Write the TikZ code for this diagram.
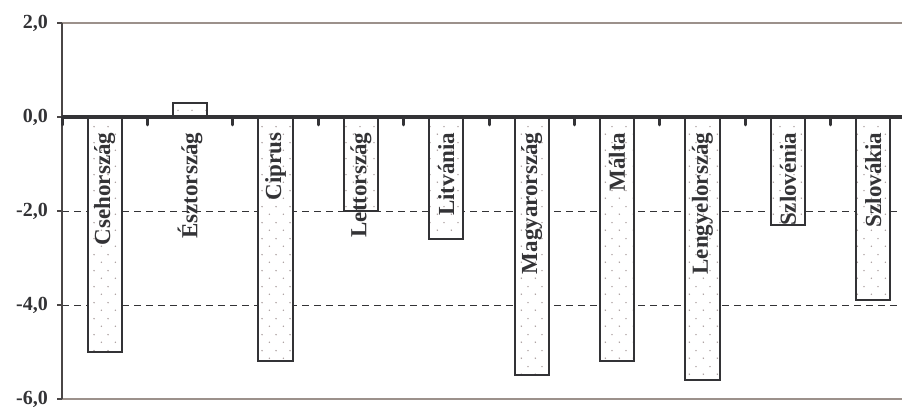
\documentclass[tikz,border=0pt]{standalone}
\usepackage{fontspec}
\setmainfont{Liberation Serif}
\usetikzlibrary{patterns.meta}
\definecolor{framegray}{HTML}{9C918B}
\definecolor{axisgray}{HTML}{4A4646}
\definecolor{bardark}{HTML}{333336}
\definecolor{dotgray}{HTML}{A89C9C}

\tikzdeclarepattern{name=bardots, type=uncolored,
  bounding box={(0pt,0pt) and (14pt,16pt)}, tile size={(14pt,16pt)},
  code={\fill (3.5pt,4pt) circle (0.85pt); \fill (10.5pt,12pt) circle (0.85pt);}}

\tikzset{
  gridline/.style={bardark, line width=0.8pt, dash pattern=on 7pt off 5pt},
  frameline/.style={framegray, line width=2pt},
  axisline/.style={axisgray, line width=1.5pt},
  zeroline/.style={bardark, line width=4pt},
  zerotick/.style={bardark, line width=3pt, line cap=round},
  bar/.style={bardark, line width=2pt, preaction={fill=white}, pattern={bardots}, pattern color=dotgray},
  catlabel/.style={rotate=90, anchor=east, inner sep=0pt, text=bardark, font=\fontsize{23}{23}\selectfont\bfseries},
  ticklabel/.style={anchor=east, inner sep=0pt, text=bardark, font=\fontsize{20}{20}\selectfont\bfseries}
}

\begin{document}
\begin{tikzpicture}[x=85.4pt, y=47pt]
  \useasboundingbox (-0.726,-6.234) rectangle (9.836,2.489);
  % gridlines and frame
  \draw[gridline] (0,-2) -- (9.836,-2);
  \draw[gridline] (0,-4) -- (9.836,-4);
  \draw[frameline] (0,2) -- (9.836,2);
  \draw[frameline] (0,-6) -- (9.836,-6);
  \draw[axisline] (0,-6) -- (0,2);
  % value axis
  \foreach \v/\n/\t in {2/p2/{2,0}, 0/z/{0,0}, -2/m2/{-2,0}, -4/m4/{-4,0}, -6/m6/{-6,0}} {
    \draw[axisline] (0,\v) -- ++(-5pt,0);
    \node[ticklabel] (tick\n) at (-0.164,\v) {\t};
  }
  % bars
  \foreach \i/\v in {1/-5.0, 2/0.3, 3/-5.2, 4/-2.0, 5/-2.6, 6/-5.5, 7/-5.2, 8/-5.6, 9/-2.3, 10/-3.9}
    \draw[bar] (\i-0.7,0) rectangle (\i-0.3,\v);
  % zero axis
  \draw[zeroline] (0,0) -- (9.836,0);
  \foreach \k in {0,...,9}
    \draw[zerotick] (\k,0) -- ++(0,-8pt);
  % category labels
  \foreach \i/\name in {1/Csehország, 2/Észtország, 3/Ciprus, 4/Lettország,
      5/Litvánia, 6/Magyarország, 7/Málta, 8/Lengyelország, 9/Szlovénia, 10/Szlovákia}
    \node[catlabel] (cat\i) at (\i-0.5,-0.33) {\name};
\end{tikzpicture}
\end{document}
